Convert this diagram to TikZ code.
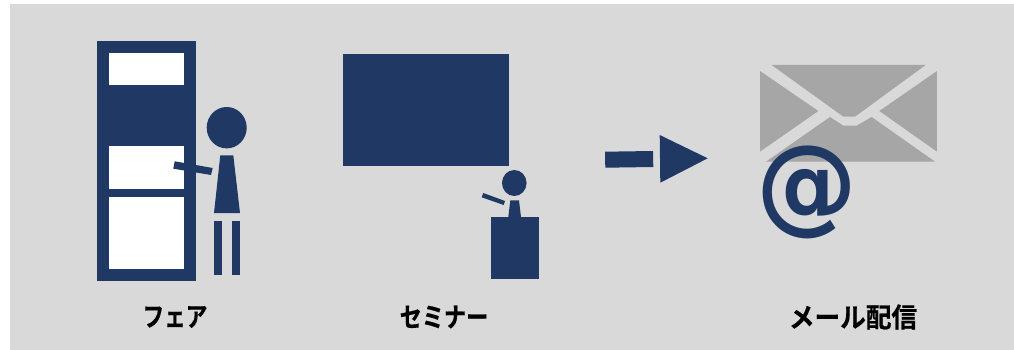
\documentclass[tikz,border=0pt]{standalone}
\usepackage{fontspec}
\newfontfamily\cjk[FakeBold=0.6]{Noto Sans CJK JP Bold}
\newfontfamily\atfont{DejaVu Sans}
\definecolor{navy}{HTML}{1F3864}
\definecolor{panel}{HTML}{D9D9D9}
\definecolor{envgray}{HTML}{A6A6A6}
\tikzset{
  icon/.style={fill=navy,draw=none},
  env/.style={fill=envgray,draw=none},
  win/.style={fill=white,draw=none},
  caption/.style={font=\cjk\fontsize{27}{30}\selectfont,text=black,inner sep=0pt,anchor=center}
}
\begin{document}
\begin{tikzpicture}[x=1pt,y=-1pt]
\useasboundingbox (0,0) rectangle (1014,350);
\fill[panel] (10,4) rectangle (1014,350);
% door
\fill[icon] (96.7,41) rectangle (195.7,280.7);
\fill[win] (108.7,53) rectangle (183.7,85);
\fill[win] (108.7,146) rectangle (183.7,189);
\fill[win] (108.7,197) rectangle (183.7,269);
% person 1
\fill[icon] (226.7,127.7) ellipse [x radius=20,y radius=20.7];
\fill[icon] (220.3,155.3) -- (233.3,155.3) -- (240,213) -- (214,213) -- cycle;
\fill[icon] (214,221) rectangle (222,275);
\fill[icon] (232,221) rectangle (240,275);
\fill[icon] (174.7,161.3) -- (212.7,168) -- (211,175) -- (173.3,168.7) -- cycle;
% screen
\fill[icon] (343,54) rectangle (509,166);
% person 2
\fill[icon] (514.3,183) ellipse [x radius=12.3,y radius=13];
\fill[icon] (510.3,200.3) -- (519,200.3) -- (521,217) -- (508.3,217) -- cycle;
\fill[icon] (491,217) rectangle (539,279);
\fill[icon] (483.3,193) -- (505,201) -- (503.7,205) -- (481.7,197.3) -- cycle;
% arrow
\fill[icon] (605,151.7) -- (653,151) -- (653.3,167) -- (605.3,167.7) -- cycle;
\fill[icon] (659.7,135) -- (707.7,158.3) -- (660.3,182.7) -- cycle;
% envelope
\begin{scope}[shift={(750,55)},x=0.3333pt,y=-0.3333pt]
\fill[env] (65,30) -- (527,30) -- (315,185) -- (280,185) -- cycle;
\fill[env] (30,48) -- (205,168) -- (30,290) -- cycle;
\fill[env] (561,48) -- (388,168) -- (561,290) -- cycle;
\fill[env] (48,320) -- (240,186) -- (280,212) -- (320,212) -- (365,186) -- (555,320) -- cycle;
\end{scope}
\node[text=navy,inner sep=0pt,yscale=1.05,font=\atfont\bfseries\fontsize{101}{101}\selectfont] (at) at (806.7,192) {@};
% captions
\node[caption,xscale=0.8] (fair) at (175,317) {フェア};
\node[caption,xscale=0.82] (seminar) at (444,317) {セミナー};
\node[caption,xscale=0.95] (mail) at (853,317) {メール配信};
\end{tikzpicture}
\end{document}
